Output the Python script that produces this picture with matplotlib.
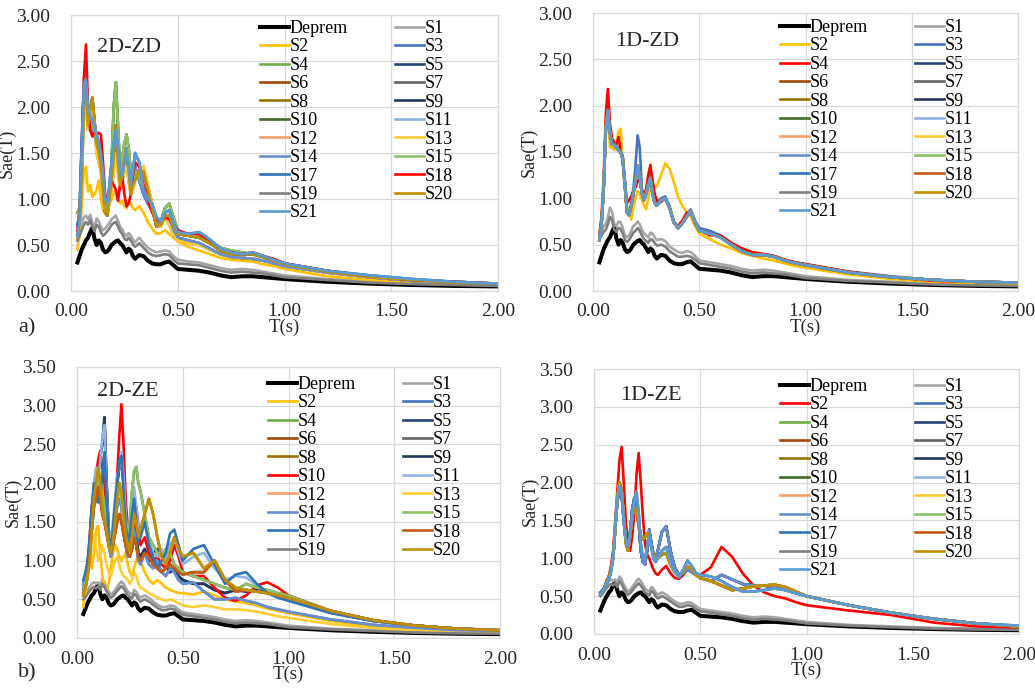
import matplotlib
matplotlib.use("Agg")
import matplotlib.pyplot as plt
from matplotlib.ticker import FormatStrFormatter, MultipleLocator

plt.rcParams['font.family'] = ['Liberation Serif', 'DejaVu Serif']

W, H = 1035, 691

# ---------------- data ----------------
T = [0.03, 0.04, 0.05, 0.06, 0.07, 0.08, 0.09, 0.10, 0.11, 0.12,
     0.13, 0.14, 0.15, 0.16, 0.17, 0.18, 0.19, 0.20, 0.21, 0.22,
     0.23, 0.24, 0.25, 0.26, 0.27, 0.28, 0.29, 0.30,
     0.32, 0.34, 0.36, 0.38, 0.40, 0.42, 0.44, 0.46, 0.48, 0.50,
     0.55, 0.60, 0.65, 0.70, 0.75, 0.80, 0.85, 0.90, 0.95, 1.00,
     1.2, 1.4, 1.6, 1.8, 2.0]

DEPREM = [0.31, 0.38, 0.45, 0.50, 0.55, 0.58, 0.64, 0.69, 0.57, 0.50,
          0.55, 0.52, 0.45, 0.42, 0.43, 0.46, 0.50, 0.52, 0.54, 0.55,
          0.52, 0.50, 0.46, 0.42, 0.46, 0.44, 0.38, 0.35,
          0.39, 0.38, 0.33, 0.30, 0.29, 0.29, 0.31, 0.32, 0.28, 0.24,
          0.23, 0.22, 0.20, 0.17, 0.15, 0.16, 0.16, 0.15, 0.14, 0.13,
          0.10, 0.08, 0.065, 0.055, 0.05]

# ---- 2D-ZD ----
A_S1 = [0.60, 0.65, 0.72, 0.80, 0.82, 0.78, 0.83, 0.74, 0.70, 0.79,
        0.76, 0.70, 0.66, 0.68, 0.71, 0.74, 0.78, 0.80, 0.82, 0.76,
        0.70, 0.67, 0.62, 0.60, 0.63, 0.60, 0.56, 0.53,
        0.58, 0.52, 0.47, 0.44, 0.42, 0.43, 0.44, 0.43, 0.38, 0.34,
        0.32, 0.31, 0.28, 0.25, 0.23, 0.24, 0.23, 0.21, 0.19, 0.17,
        0.13, 0.10, 0.08, 0.07, 0.06]
A_S19 = [0.55, 0.60, 0.66, 0.72, 0.75, 0.72, 0.77, 0.70, 0.65, 0.72,
         0.70, 0.64, 0.60, 0.62, 0.65, 0.68, 0.72, 0.74, 0.75, 0.70,
         0.65, 0.62, 0.57, 0.55, 0.58, 0.55, 0.51, 0.48,
         0.52, 0.47, 0.42, 0.39, 0.38, 0.39, 0.40, 0.39, 0.34, 0.30,
         0.29, 0.28, 0.25, 0.22, 0.20, 0.21, 0.20, 0.19, 0.17, 0.15,
         0.12, 0.09, 0.075, 0.065, 0.055]
A_S2 = [0.45, 0.60, 0.90, 1.30, 1.35, 1.08, 1.15, 1.02, 1.05, 1.10,
        1.20, 1.00, 0.88, 0.85, 0.90, 0.95, 1.00, 1.05, 1.10, 1.00,
        0.95, 0.98, 0.92, 0.90, 0.98, 0.95, 0.90, 0.88,
        0.92, 0.85, 0.75, 0.68, 0.62, 0.63, 0.66, 0.62, 0.58, 0.54,
        0.48, 0.44, 0.40, 0.36, 0.34, 0.33, 0.32, 0.29, 0.27, 0.24,
        0.16, 0.12, 0.09, 0.075, 0.065]
A_S18 = [0.65, 0.80, 1.40, 2.30, 2.68, 2.00, 1.75, 1.68, 1.72, 1.70,
         1.72, 1.70, 1.40, 1.05, 1.00, 1.10, 1.20, 1.15, 1.10, 0.98,
         1.15, 1.25, 1.05, 0.92, 0.95, 1.05, 1.25, 1.40,
         1.35, 1.15, 1.00, 0.85, 0.78, 0.76, 0.80, 0.78, 0.72, 0.66,
         0.62, 0.62, 0.55, 0.45, 0.42, 0.40, 0.42, 0.38, 0.35, 0.30,
         0.22, 0.16, 0.12, 0.10, 0.08]
A_S4 = [0.85, 0.90, 1.30, 2.10, 2.25, 1.95, 1.85, 1.80, 1.75, 1.60,
        1.55, 1.45, 1.20, 0.95, 0.90, 1.00, 1.40, 2.00, 2.27, 1.80,
        1.30, 1.45, 1.60, 1.70, 1.55, 1.30, 1.20, 1.30,
        1.25, 1.10, 1.00, 0.92, 0.80, 0.75, 0.90, 0.95, 0.80, 0.66,
        0.60, 0.62, 0.55, 0.47, 0.44, 0.42, 0.40, 0.38, 0.34, 0.30,
        0.22, 0.16, 0.12, 0.10, 0.08]
A_S21 = [0.60, 0.75, 1.50, 2.25, 2.30, 2.00, 1.90, 1.85, 1.80, 1.70,
         1.62, 1.50, 1.30, 1.00, 0.95, 1.15, 1.40, 1.60, 1.75, 1.55,
         1.30, 1.25, 1.40, 1.50, 1.35, 1.15, 1.30, 1.50,
         1.40, 1.10, 1.00, 0.95, 0.80, 0.76, 0.85, 0.88, 0.74, 0.64,
         0.62, 0.64, 0.56, 0.46, 0.42, 0.40, 0.42, 0.38, 0.34, 0.30,
         0.22, 0.17, 0.13, 0.10, 0.08]
A_S6 = [0.62, 0.72, 1.30, 2.00, 2.15, 1.80, 1.95, 2.10, 1.85, 1.60,
        1.50, 1.35, 1.10, 0.85, 0.82, 1.00, 1.20, 1.45, 1.80, 1.40,
        1.15, 1.25, 1.45, 1.50, 1.30, 1.05, 1.15, 1.20,
        1.30, 1.30, 1.10, 0.90, 0.70, 0.72, 0.82, 0.82, 0.70, 0.62,
        0.60, 0.58, 0.52, 0.44, 0.40, 0.40, 0.40, 0.37, 0.33, 0.29,
        0.21, 0.15, 0.12, 0.09, 0.08]
A_S13 = [0.55, 0.70, 1.20, 1.90, 2.00, 1.75, 1.90, 2.05, 1.80, 1.50,
         1.40, 1.30, 1.05, 0.88, 0.85, 0.95, 1.10, 1.30, 1.50, 1.30,
         1.10, 1.20, 1.30, 1.35, 1.20, 1.05, 1.10, 1.20,
         1.30, 1.35, 1.15, 0.95, 0.75, 0.70, 0.80, 0.72, 0.62, 0.55,
         0.52, 0.50, 0.45, 0.40, 0.37, 0.36, 0.35, 0.33, 0.30, 0.27,
         0.20, 0.15, 0.11, 0.09, 0.075]
A_S3 = [0.70, 0.85, 1.60, 2.20, 2.20, 1.90, 1.80, 1.75, 1.70, 1.60,
        1.55, 1.45, 1.25, 0.95, 0.90, 1.05, 1.30, 1.55, 1.70, 1.45,
        1.25, 1.35, 1.50, 1.55, 1.40, 1.10, 1.20, 1.35,
        1.20, 1.05, 0.95, 0.88, 0.75, 0.72, 0.80, 0.80, 0.66, 0.58,
        0.55, 0.52, 0.46, 0.40, 0.37, 0.36, 0.35, 0.33, 0.30, 0.27,
        0.20, 0.15, 0.11, 0.09, 0.075]

# ---- 1D-ZD ----
B_S1 = [0.60, 0.65, 0.70, 0.72, 0.80, 0.90, 0.85, 0.72, 0.70, 0.75,
        0.74, 0.68, 0.60, 0.58, 0.60, 0.65, 0.70, 0.72, 0.75, 0.72,
        0.66, 0.62, 0.60, 0.58, 0.63, 0.62, 0.58, 0.55,
        0.56, 0.54, 0.48, 0.45, 0.42, 0.41, 0.43, 0.42, 0.38, 0.33,
        0.31, 0.29, 0.27, 0.24, 0.22, 0.23, 0.22, 0.20, 0.18, 0.16,
        0.12, 0.10, 0.08, 0.07, 0.06]
B_S19 = [0.56, 0.60, 0.64, 0.66, 0.72, 0.80, 0.76, 0.66, 0.64, 0.68,
         0.67, 0.62, 0.55, 0.53, 0.55, 0.59, 0.63, 0.65, 0.68, 0.65,
         0.60, 0.56, 0.54, 0.52, 0.56, 0.55, 0.52, 0.49,
         0.50, 0.48, 0.43, 0.40, 0.37, 0.37, 0.38, 0.37, 0.34, 0.30,
         0.28, 0.26, 0.24, 0.21, 0.19, 0.20, 0.19, 0.18, 0.16, 0.14,
         0.11, 0.09, 0.07, 0.06, 0.055]
B_S2 = [0.62, 0.78, 1.10, 1.70, 1.85, 1.55, 1.55, 1.52, 1.58, 1.72,
        1.75, 1.40, 1.10, 0.92, 0.85, 0.77, 0.90, 1.00, 1.08, 1.05,
        0.98, 0.92, 0.88, 1.00, 1.17, 1.15, 1.12, 1.13,
        1.25, 1.38, 1.32, 1.18, 1.02, 0.92, 0.85, 0.80, 0.70, 0.62,
        0.56, 0.50, 0.46, 0.41, 0.38, 0.35, 0.33, 0.30, 0.27, 0.25,
        0.18, 0.13, 0.10, 0.08, 0.07]
B_S4 = [0.60, 0.80, 1.20, 1.90, 2.18, 1.80, 1.65, 1.60, 1.58, 1.66,
        1.50, 1.45, 1.20, 0.95, 0.98, 1.02, 1.08, 1.12, 1.18, 1.22,
        1.10, 1.02, 1.10, 1.25, 1.36, 1.20, 1.05, 0.98,
        0.96, 1.00, 0.90, 0.75, 0.70, 0.76, 0.84, 0.86, 0.74, 0.66,
        0.60, 0.60, 0.52, 0.46, 0.42, 0.40, 0.38, 0.34, 0.31, 0.29,
        0.21, 0.15, 0.11, 0.10, 0.09]
B_S3 = [0.58, 0.75, 1.10, 1.75, 1.95, 1.70, 1.60, 1.58, 1.55, 1.55,
        1.50, 1.45, 1.15, 0.85, 0.82, 0.95, 1.10, 1.35, 1.68, 1.55,
        1.10, 1.00, 1.10, 1.20, 1.28, 1.10, 0.98, 0.95,
        1.00, 1.02, 0.92, 0.75, 0.68, 0.74, 0.82, 0.88, 0.76, 0.68,
        0.65, 0.60, 0.52, 0.44, 0.40, 0.40, 0.38, 0.34, 0.31, 0.29,
        0.21, 0.16, 0.12, 0.10, 0.09]
B_S21 = [0.55, 0.72, 1.10, 1.75, 1.95, 1.70, 1.58, 1.58, 1.55, 1.52,
         1.50, 1.42, 1.15, 0.85, 0.82, 0.92, 1.05, 1.20, 1.35, 1.25,
         1.05, 0.98, 1.05, 1.15, 1.22, 1.05, 0.95, 0.92,
         0.98, 1.00, 0.90, 0.74, 0.68, 0.73, 0.80, 0.86, 0.74, 0.65,
         0.62, 0.58, 0.50, 0.43, 0.39, 0.39, 0.37, 0.33, 0.30, 0.28,
         0.20, 0.15, 0.12, 0.10, 0.09]

# ---- 2D-ZE ----
CD_S1 = [0.55, 0.58, 0.62, 0.66, 0.70, 0.72, 0.70, 0.72, 0.68, 0.76,
         0.72, 0.65, 0.60, 0.56, 0.58, 0.62, 0.66, 0.70, 0.73, 0.70,
         0.65, 0.60, 0.58, 0.56, 0.62, 0.60, 0.55, 0.52,
         0.55, 0.52, 0.47, 0.43, 0.40, 0.40, 0.42, 0.41, 0.37, 0.33,
         0.31, 0.29, 0.27, 0.24, 0.22, 0.23, 0.22, 0.20, 0.18, 0.16,
         0.12, 0.10, 0.08, 0.07, 0.06]
CD_S19 = [0.50, 0.53, 0.57, 0.61, 0.64, 0.66, 0.64, 0.67, 0.62, 0.70,
          0.66, 0.60, 0.55, 0.52, 0.54, 0.57, 0.61, 0.64, 0.67, 0.64,
          0.60, 0.55, 0.53, 0.51, 0.57, 0.55, 0.50, 0.47,
          0.50, 0.47, 0.43, 0.39, 0.36, 0.36, 0.38, 0.37, 0.33, 0.30,
          0.28, 0.26, 0.24, 0.21, 0.19, 0.20, 0.19, 0.18, 0.16, 0.14,
          0.11, 0.09, 0.07, 0.06, 0.055]
C_S10 = [0.60, 0.75, 0.90, 1.30, 1.70, 1.90, 2.10, 2.30, 2.42, 2.20,
         2.00, 1.60, 1.30, 1.20, 1.35, 1.60, 2.10, 2.60, 3.02, 2.50,
         1.80, 1.40, 1.20, 1.25, 1.50, 1.70, 1.45, 1.20,
         1.30, 1.10, 1.00, 1.05, 0.95, 0.90, 1.00, 1.20, 1.05, 0.85,
         0.80, 0.80, 0.65, 0.52, 0.48, 0.55, 0.68, 0.72, 0.65, 0.55,
         0.35, 0.23, 0.16, 0.12, 0.10]
C_S9 = [0.70, 0.80, 0.95, 1.20, 1.60, 1.90, 2.00, 2.20, 2.35, 2.50,
        2.85, 2.00, 1.40, 1.15, 1.30, 1.60, 2.00, 2.20, 2.30, 2.00,
        1.60, 1.30, 1.20, 1.35, 1.50, 1.30, 1.10, 1.05,
        1.15, 1.00, 1.10, 1.15, 1.10, 0.95, 0.85, 0.90, 0.80, 0.75,
        0.70, 0.70, 0.62, 0.58, 0.62, 0.60, 0.62, 0.60, 0.55, 0.50,
        0.33, 0.22, 0.16, 0.12, 0.10]
C_S7 = [0.60, 0.70, 0.85, 1.10, 1.50, 1.80, 1.90, 2.00, 2.10, 1.90,
        1.70, 1.50, 1.30, 1.20, 1.40, 1.70, 1.90, 2.00, 1.80, 1.50,
        1.30, 1.20, 1.50, 1.90, 2.15, 2.21, 2.00, 1.90,
        1.60, 1.30, 1.20, 1.10, 1.05, 1.15, 1.10, 0.95, 0.90, 0.85,
        0.80, 0.75, 0.70, 0.65, 0.62, 0.70, 0.65, 0.62, 0.58, 0.55,
        0.35, 0.23, 0.16, 0.12, 0.10]
C_S8 = [0.55, 0.65, 0.80, 1.00, 1.40, 1.80, 2.00, 2.20, 2.00, 1.70,
        1.50, 1.40, 1.20, 1.10, 1.25, 1.50, 1.80, 2.00, 1.90, 1.60,
        1.35, 1.20, 1.10, 1.30, 1.60, 1.50, 1.30, 1.40,
        1.60, 1.80, 1.60, 1.30, 1.05, 0.95, 1.10, 1.30, 1.15, 1.05,
        1.10, 0.90, 1.00, 0.75, 0.65, 0.62, 0.60, 0.58, 0.55, 0.52,
        0.35, 0.23, 0.16, 0.12, 0.10]
C_S17 = [0.75, 0.85, 1.00, 1.30, 1.70, 2.00, 1.90, 1.75, 1.85, 2.10,
         2.40, 1.80, 1.30, 1.15, 1.40, 1.75, 2.00, 2.30, 2.35, 1.90,
         1.45, 1.25, 1.35, 1.60, 1.80, 1.50, 1.25, 1.30,
         1.50, 1.20, 1.05, 0.90, 1.00, 1.10, 1.35, 1.40, 1.20, 1.00,
         1.15, 1.20, 0.95, 0.70, 0.82, 0.85, 0.70, 0.58, 0.52, 0.48,
         0.32, 0.22, 0.16, 0.12, 0.10]
C_S3 = [0.65, 0.75, 0.90, 1.10, 1.40, 1.70, 1.80, 1.90, 2.00, 1.80,
        1.60, 1.40, 1.20, 1.05, 1.20, 1.50, 1.70, 1.80, 1.70, 1.40,
        1.20, 1.05, 1.10, 1.30, 1.40, 1.20, 1.00, 0.95,
        1.10, 0.95, 0.90, 1.00, 0.85, 0.80, 0.90, 0.85, 0.75, 0.70,
        0.72, 0.60, 0.50, 0.50, 0.52, 0.48, 0.45, 0.40, 0.37, 0.34,
        0.24, 0.17, 0.13, 0.10, 0.09]
C_S2 = [0.40, 0.60, 0.90, 1.05, 0.90, 1.10, 1.40, 1.45, 1.10, 0.80,
        0.65, 0.62, 0.70, 0.90, 1.10, 1.20, 1.15, 1.05, 1.00, 1.05,
        1.10, 0.95, 0.85, 0.80, 0.90, 1.00, 1.05, 1.00,
        0.85, 0.75, 0.70, 0.75, 0.70, 0.65, 0.62, 0.60, 0.58, 0.58,
        0.56, 0.60, 0.55, 0.50, 0.47, 0.45, 0.42, 0.38, 0.35, 0.32,
        0.22, 0.15, 0.11, 0.09, 0.08]
C_S13 = [0.45, 0.60, 0.80, 1.00, 1.20, 1.35, 1.20, 1.00, 1.05, 1.20,
         1.10, 0.95, 0.85, 0.80, 0.90, 1.00, 1.05, 0.95, 0.85, 0.80,
         0.78, 0.75, 0.70, 0.75, 0.85, 0.80, 0.70, 0.65,
         0.62, 0.58, 0.55, 0.52, 0.50, 0.48, 0.50, 0.48, 0.45, 0.42,
         0.40, 0.42, 0.40, 0.37, 0.37, 0.36, 0.34, 0.31, 0.28, 0.26,
         0.18, 0.13, 0.10, 0.08, 0.07]
C_S11 = [0.70, 0.80, 0.95, 1.20, 1.60, 2.00, 2.20, 2.00, 2.30, 2.60,
         2.75, 1.90, 1.40, 1.20, 1.50, 1.80, 2.10, 2.20, 2.40, 2.10,
         1.60, 1.30, 1.40, 1.70, 1.95, 1.70, 1.40, 1.35,
         1.55, 1.25, 1.10, 1.05, 1.15, 1.00, 1.20, 1.30, 1.10, 0.95,
         1.05, 1.10, 0.90, 0.75, 0.80, 0.78, 0.68, 0.60, 0.55, 0.50,
         0.33, 0.22, 0.16, 0.12, 0.11]
C_S6 = [0.55, 0.65, 0.80, 1.05, 1.40, 1.70, 1.80, 1.95, 1.80, 1.60,
        1.50, 1.35, 1.20, 1.10, 1.20, 1.35, 1.50, 1.60, 1.50, 1.35,
        1.20, 1.10, 1.05, 1.15, 1.30, 1.20, 1.05, 1.00,
        1.10, 1.05, 0.95, 0.90, 0.85, 0.90, 0.95, 0.90, 0.85, 0.82,
        0.85, 0.85, 1.00, 0.75, 0.60, 0.62, 0.60, 0.58, 0.55, 0.52,
        0.35, 0.23, 0.16, 0.12, 0.10]

# ---- 1D-ZE ----
D_S2 = [0.55, 0.58, 0.62, 0.70, 0.76, 0.90, 1.10, 1.50, 1.90, 2.30,
        2.47, 2.00, 1.46, 1.20, 1.10, 1.30, 1.60, 2.10, 2.39, 2.00,
        1.55, 1.20, 1.05, 1.00, 0.92, 0.85, 0.80, 0.78,
        0.85, 0.90, 0.80, 0.74, 0.73, 0.78, 0.85, 0.85, 0.80, 0.78,
        0.88, 1.15, 1.02, 0.80, 0.64, 0.55, 0.50, 0.47, 0.42, 0.38,
        0.31, 0.25, 0.15, 0.10, 0.07]
D_S4 = [0.52, 0.55, 0.60, 0.68, 0.75, 0.85, 1.00, 1.40, 1.80, 2.00,
        1.90, 1.55, 1.20, 1.10, 1.30, 1.55, 1.68, 1.62, 1.45, 1.30,
        1.25, 1.28, 1.33, 1.25, 1.15, 1.05, 0.98, 1.00,
        1.05, 1.07, 0.92, 0.82, 0.76, 0.82, 0.89, 0.86, 0.78, 0.74,
        0.70, 0.64, 0.58, 0.60, 0.63, 0.64, 0.65, 0.62, 0.56, 0.50,
        0.38, 0.28, 0.20, 0.14, 0.10]
D_S3 = [0.55, 0.57, 0.62, 0.70, 0.76, 0.85, 1.00, 1.40, 1.75, 1.90,
        1.85, 1.50, 1.20, 1.15, 1.35, 1.65, 1.80, 1.75, 1.50, 1.10,
        0.95, 0.92, 1.10, 1.38, 1.20, 1.05, 1.00, 1.10,
        1.35, 1.42, 1.10, 0.88, 0.78, 0.80, 0.85, 0.82, 0.78, 0.74,
        0.70, 0.78, 0.72, 0.66, 0.64, 0.64, 0.62, 0.58, 0.54, 0.50,
        0.38, 0.28, 0.20, 0.14, 0.10]
D_S21 = [0.52, 0.55, 0.60, 0.66, 0.72, 0.82, 1.00, 1.40, 1.80, 1.95,
         1.85, 1.50, 1.25, 1.15, 1.30, 1.60, 1.75, 1.88, 1.60, 1.20,
         1.00, 0.98, 1.15, 1.30, 1.15, 1.00, 0.95, 1.00,
         1.10, 1.15, 0.95, 0.82, 0.75, 0.85, 0.97, 0.90, 0.80, 0.78,
         0.76, 0.70, 0.62, 0.56, 0.56, 0.58, 0.60, 0.58, 0.54, 0.50,
         0.38, 0.28, 0.20, 0.14, 0.11]

NAMES_21 = ['Deprem', 'S1', 'S2', 'S3', 'S4', 'S5', 'S6', 'S7', 'S8', 'S9', 'S10',
            'S11', 'S12', 'S13', 'S14', 'S15', 'S17', 'S18', 'S19', 'S20', 'S21']
NAMES_20 = NAMES_21[:-1]

BASE_COLORS = {'Deprem': '#000000', 'S1': '#A5A5A5', 'S2': '#FFC000', 'S3': '#4472C4',
               'S4': '#70AD47', 'S5': '#264478', 'S6': '#9E480E', 'S7': '#636363',
               'S8': '#997300', 'S9': '#22375F', 'S10': '#43682B', 'S11': '#8FB4E3',
               'S12': '#F4A06A', 'S13': '#FFCD33', 'S14': '#698ED0', 'S15': '#8CC168',
               'S17': '#2E75B6', 'S18': '#C55A11', 'S19': '#7F7F7F', 'S20': '#BF9000',
               'S21': '#5B9BD5'}

panels = [
    dict(title='2D-ZD', names=NAMES_21, ymax=3.0, override={'S18': '#FF0000'},
         data={'Deprem': DEPREM, 'S1': A_S1, 'S2': A_S2, 'S3': A_S3, 'S4': A_S4,
               'S5': A_S6, 'S6': A_S6, 'S7': A_S6, 'S8': A_S13, 'S9': A_S3,
               'S10': A_S4, 'S11': A_S21, 'S12': A_S13, 'S13': A_S13, 'S14': A_S3,
               'S15': A_S4, 'S17': A_S21, 'S18': A_S18, 'S19': A_S19, 'S20': A_S6,
               'S21': A_S21},
         rect=(71, 15, 498, 291), leg=(260, 20), title_xy=(97, 47)),
    dict(title='1D-ZD', names=NAMES_21, ymax=3.0, override={'S4': '#FF0000'},
         data={'Deprem': DEPREM, 'S1': B_S1, 'S2': B_S2, 'S3': B_S3, 'S4': B_S4,
               'S5': B_S21, 'S6': B_S21, 'S7': B_S21, 'S8': B_S21, 'S9': B_S21,
               'S10': B_S21, 'S11': B_S21, 'S12': B_S21, 'S13': B_S21, 'S14': B_S21,
               'S15': B_S21, 'S17': B_S21, 'S18': B_S21, 'S19': B_S19, 'S20': B_S21,
               'S21': B_S21},
         rect=(593, 13, 1018, 291), leg=(780, 19), title_xy=(615, 42)),
    dict(title='2D-ZE', names=NAMES_20, ymax=3.5, override={'S10': '#FF0000'},
         data={'Deprem': DEPREM, 'S1': CD_S1, 'S2': C_S2, 'S3': C_S3, 'S4': C_S6,
               'S5': C_S9, 'S6': C_S6, 'S7': C_S7, 'S8': C_S8, 'S9': C_S9,
               'S10': C_S10, 'S11': C_S11, 'S12': C_S8, 'S13': C_S13, 'S14': C_S3,
               'S15': C_S7, 'S17': C_S17, 'S18': C_S6, 'S19': CD_S19, 'S20': C_S8},
         rect=(77, 367, 500, 638), leg=(268, 376), title_xy=(97, 392)),
    dict(title='1D-ZE', names=NAMES_21, ymax=3.5, override={'S2': '#FF0000'},
         data={'Deprem': DEPREM, 'S1': CD_S1, 'S2': D_S2, 'S3': D_S3, 'S4': D_S4,
               'S5': D_S3, 'S6': D_S4, 'S7': D_S4, 'S8': D_S4, 'S9': D_S3,
               'S10': D_S4, 'S11': D_S21, 'S12': D_S4, 'S13': D_S4, 'S14': D_S3,
               'S15': D_S4, 'S17': D_S21, 'S18': D_S4, 'S19': CD_S19, 'S20': D_S4,
               'S21': D_S21},
         rect=(594, 369, 1019, 634), leg=(780, 378), title_xy=(620, 395)),
]

GRID = '#D9D9D9'
TXT = '#262626'

fig = plt.figure(figsize=(W / 100, H / 100), dpi=100)

for p in panels:
    x0, y0, x1, y1 = p['rect']
    ax = fig.add_axes([x0 / W, 1 - y1 / H, (x1 - x0) / W, (y1 - y0) / H])
    handles = []
    for nm in p['names']:
        col = p['override'].get(nm, BASE_COLORS[nm])
        lw = 2.9 if nm == 'Deprem' else 1.9
        h, = ax.plot(T, p['data'][nm], color=col, lw=lw, label=nm,
                     solid_joinstyle='round')
        handles.append(h)
    ax.set_xlim(0, 2.0)
    ax.set_ylim(0, p['ymax'])
    ax.xaxis.set_major_locator(MultipleLocator(0.5))
    ax.yaxis.set_major_locator(MultipleLocator(0.5))
    ax.xaxis.set_major_formatter(FormatStrFormatter('%.2f'))
    ax.yaxis.set_major_formatter(FormatStrFormatter('%.2f'))
    ax.grid(True, color=GRID, lw=0.9)
    ax.set_axisbelow(True)
    for s in ax.spines.values():
        s.set_color(GRID)
        s.set_linewidth(0.9)
    ax.tick_params(length=0, labelsize=14, colors=TXT)
    ax.tick_params(axis='y', pad=15)
    ax.tick_params(axis='x', pad=9)
    ax.set_xlabel('T(s)', fontsize=13.5, labelpad=-1, color=TXT)
    ax.set_ylabel('Sae(T)', fontsize=13, labelpad=0, color=TXT)

    n = len(handles)
    order = list(range(0, n, 2)) + list(range(1, n, 2))
    lx, ly = p['leg']
    fig.legend([handles[i] for i in order], [p['names'][i] for i in order],
               ncol=2, loc='upper left', bbox_to_anchor=(lx / W, 1 - ly / H),
               frameon=False, fontsize=13, handlelength=1.6, handletextpad=0.05,
               columnspacing=2.6, labelspacing=0.08, borderpad=0, borderaxespad=0)
    tx, ty = p['title_xy']
    fig.text(tx / W, 1 - ty / H, p['title'], fontsize=16, ha='left', va='center',
             color=TXT)

fig.text(18 / W, 1 - 328 / H, 'a)', fontsize=16, ha='left', va='center', color=TXT)
fig.text(18 / W, 1 - 673 / H, 'b)', fontsize=16, ha='left', va='center', color=TXT)

fig.savefig('out.png', dpi=100)
